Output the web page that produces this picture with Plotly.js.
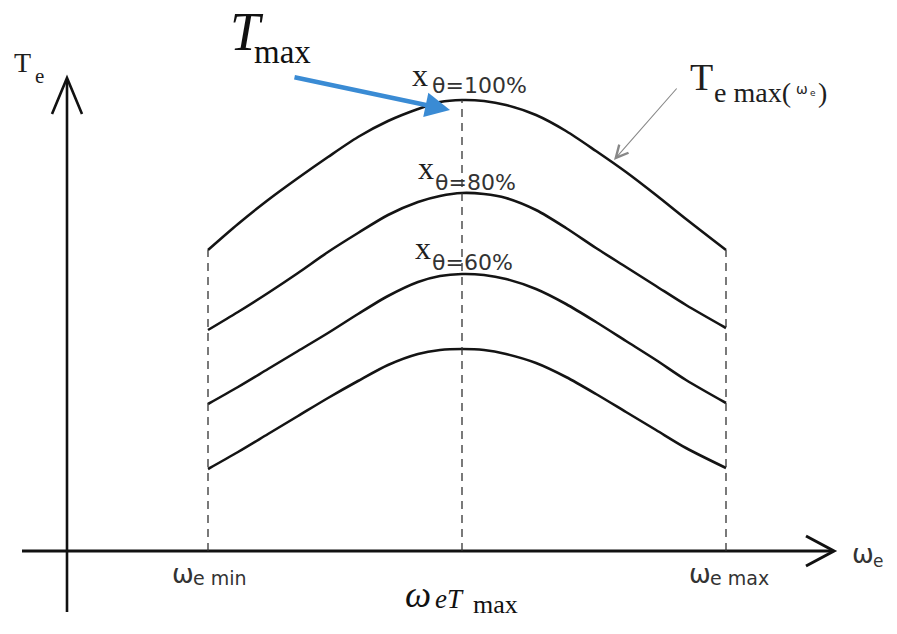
<!DOCTYPE html>
<html>
<head>
<meta charset="utf-8">
<script src="https://cdn.plot.ly/plotly-3.0.1.min.js"></script>
<style>html,body{margin:0;padding:0;background:#fff}#chart{width:897px;height:634px}</style>
</head>
<body>
<div id="chart"></div>
<script>
// Angular speed ω_e (arbitrary units, origin at axes crossing)
const omega = [141, 171, 201, 231, 261, 291, 321, 351, 373, 395, 417, 439, 469, 499, 529, 559, 589, 619, 659];
// Torque curves T_e (arbitrary units)
const torque100 = [301, 327, 351, 373, 394, 414, 430, 442, 449, 451, 450, 446, 436, 420, 400, 379, 356, 332, 301];
const torque80  = [221, 239, 258, 278, 299, 318, 336, 349, 355, 358, 357, 353, 341, 323, 303, 284, 265, 246, 223];
const torque60  = [147, 164, 182, 200, 218, 237, 255, 269, 275, 277, 276, 272, 262, 247, 229, 210, 191, 171, 148];
const torqueLow = [ 82,  99, 117, 135, 153, 170, 186, 197, 201, 202, 201, 197, 188, 174, 157, 139, 121, 103,  83];
const curveLabels = ["θ=100%", "θ=80%", "θ=60%"];

const series = [torque100, torque80, torque60, torqueLow];
const traces = series.map(t => ({
  x: omega, y: t, type: 'scatter', mode: 'lines',
  line: {color: '#141414', width: 2.6, shape: 'spline', smoothing: 0.8},
  hoverinfo: 'skip', showlegend: false
}));

const wMin = omega[0], wMax = omega[omega.length - 1];
const iPeak = torque100.indexOf(Math.max(...torque100));
const wPeak = omega[iPeak];

const dashStyle = {color: '#333', width: 1.3, dash: '8px,6px'};
const shapes = [
  {type: 'line', xref: 'x', yref: 'y', x0: -45, y0: 0, x1: 766, y1: 0, line: {color: '#111', width: 3}},
  {type: 'line', xref: 'x', yref: 'y', x0: 0, y0: -61, x1: 0, y1: 472, line: {color: '#111', width: 2.6}},
  {type: 'path', xref: 'x', yref: 'y', path: 'M 739,15 L 767,0 L 739,-15', line: {color: '#111', width: 3}},
  {type: 'path', xref: 'x', yref: 'y', path: 'M -15,437 L 0,473 L 15,437', line: {color: '#111', width: 2.6}},
  {type: 'line', xref: 'x', yref: 'y', x0: wMin, y0: 0, x1: wMin, y1: torque100[0], line: dashStyle},
  {type: 'line', xref: 'x', yref: 'y', x0: wPeak, y0: 0, x1: wPeak, y1: torque100[iPeak], line: dashStyle},
  {type: 'line', xref: 'x', yref: 'y', x0: wMax, y0: 0, x1: wMax, y1: torque100[torque100.length - 1], line: dashStyle}
];

const SERIF = 'Liberation Serif';
const SANS = 'DejaVu Sans';
function lab(text, left, base, size, family, color) {
  const k = family === SERIF ? 0.34 : 0.346;
  const cy = base - k * size;
  return {
    xref: 'paper', yref: 'paper', x: (left - 1) / 897, y: 1 - cy / 634,
    xanchor: 'left', yanchor: 'middle', showarrow: false, text: text,
    font: {family: family, size: size, color: color || '#1e1e1e'}
  };
}

const annotations = [
  lab("T", 13, 72, 28, SERIF),
  lab("e", 34, 83, 21, SERIF),
  lab("<i>T</i>", 229, 50, 54, SERIF, '#111'),
  lab("max", 253, 63, 33, SERIF, '#111'),
  lab("x", 411, 86, 32, SERIF), lab(curveLabels[0], 431, 93, 22, SANS, '#333'),
  lab("x", 417, 179, 32, SERIF), lab(curveLabels[1], 434, 190, 22, SANS, '#333'),
  lab("x", 414, 259, 32, SERIF), lab(curveLabels[2], 431, 270, 22, SANS, '#333'),
  lab("T", 689, 90, 38, SERIF),
  lab("e max(", 713, 102, 28, SERIF),
  lab("ω", 795, 94, 14, SANS),
  lab("e", 809, 96, 9, SANS),
  lab(")", 817, 102, 28, SERIF),
  lab("ω", 851, 563, 26, SANS, '#333'),
  lab("e", 872, 567, 17, SANS, '#333'),
  lab("ω", 171, 583, 26, SANS, '#333'),
  lab("e min", 192, 585, 19, SANS, '#333'),
  lab("ω", 688, 583, 26, SANS, '#333'),
  lab("e max", 709, 585, 19, SANS, '#333'),
  lab("<i>ω</i>", 404, 607, 37, SERIF, '#111'),
  lab("<i>eT</i>", 434, 608, 27, SERIF, '#111'),
  lab("max", 472, 613, 26, SERIF, '#111'),
  {xref: 'x', yref: 'y', axref: 'x', ayref: 'y', x: wPeak - 12, y: torque100[iPeak] - 10, ax: 226, ay: 474,
   text: '', showarrow: true, arrowhead: 2, arrowsize: 1.1, arrowwidth: 4.5, arrowcolor: '#3a8bd4', standoff: 0},
  {xref: 'x', yref: 'y', axref: 'x', ayref: 'y', x: 547, y: 391, ax: 611, ay: 464,
   text: '', showarrow: true, arrowhead: 5, arrowsize: 2.2, arrowwidth: 1.1, arrowcolor: '#888', standoff: 0}
];

const layout = {
  width: 897, height: 634,
  margin: {l: 0, r: 0, t: 0, b: 0, pad: 0},
  paper_bgcolor: '#fff', plot_bgcolor: '#fff',
  xaxis: {range: [-67, 830], visible: false, fixedrange: true},
  yaxis: {range: [-83, 551], visible: false, fixedrange: true},
  shapes: shapes, annotations: annotations, showlegend: false
};

Plotly.newPlot('chart', traces, layout, {staticPlot: true});
</script>
</body>
</html>
